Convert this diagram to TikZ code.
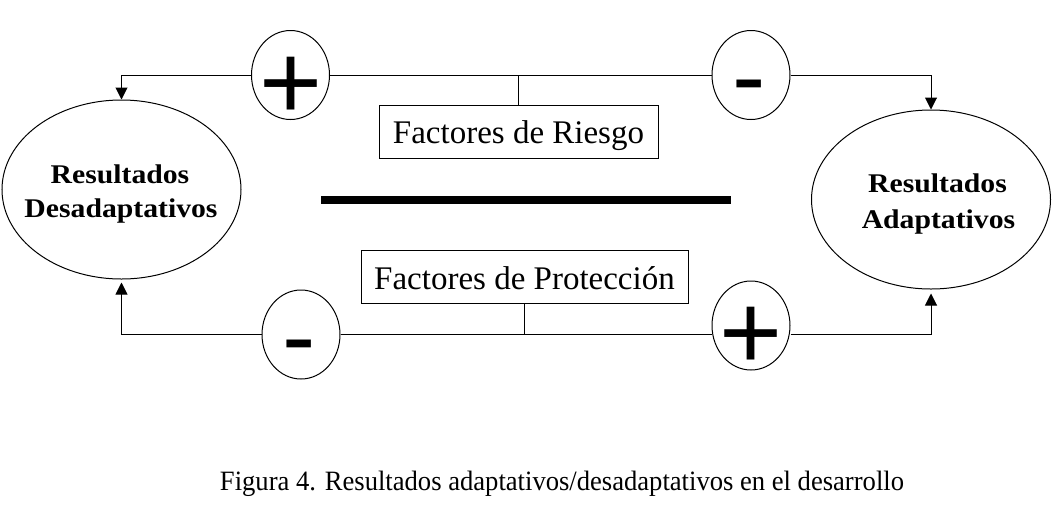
\documentclass[tikz,border=0pt]{standalone}
\usepackage{graphicx}
\usepackage{fontspec}
\setmainfont{Liberation Serif}
\newfontfamily\signfont{Liberation Sans}
\usetikzlibrary{shapes.geometric,arrows.meta}
\begin{document}
\begin{tikzpicture}[x=1pt,y=-1pt,
  conn/.style={line width=1pt},
  arr/.style={line width=1pt,-{Triangle[width=12pt,length=12pt]}},
  bigoval/.style={draw,ellipse,line width=1pt,inner sep=0pt,minimum width=239pt,minimum height=179pt},
  signoval/.style={draw,ellipse,line width=1pt,inner sep=0pt,minimum width=78pt,minimum height=89pt},
  plussign/.style={inner sep=0pt,anchor=base,font=\signfont\fontsize{108}{108}\selectfont},
  minussign/.style={inner sep=0pt,anchor=base,font=\signfont\fontsize{100}{100}\selectfont},
  factbox/.style={draw,line width=1pt,inner sep=0pt,minimum height=53pt,font=\fontsize{33}{33}\selectfont},
  boldlbl/.style={inner sep=0pt,anchor=base,font=\fontsize{27}{27}\selectfont\bfseries},
  captionlbl/.style={inner sep=0pt,anchor=base,font=\fontsize{28}{28}\selectfont}
]
\path[use as bounding box] (0,0) rectangle (1053,504);

% outcome ellipses
\node[bigoval] (desad) at (121.5,189.5) {};
\node[bigoval] (adapt) at (931,199.5) {};
\node[boldlbl] (d1) at (120,183) {\scalebox{1.1}[1]{Resultados}};
\node[boldlbl] (d2) at (121,217) {\scalebox{1.1}[1]{Desadaptativos}};
\node[boldlbl] (a1) at (937.5,192) {\scalebox{1.1}[1]{Resultados}};
\node[boldlbl] (a2) at (938.5,228) {\scalebox{1.1}[1]{Adaptativos}};

% sign circles
\node[signoval] (cTL) at (290.5,75) {};
\node[signoval] (cTR) at (751,75) {};
\node[signoval] (cBL) at (301,334.5) {};
\node[signoval] (cBR) at (751,325.5) {};
\node[plussign] (sTL) at (291,119) {+};
\node[minussign] (sTR) at (749.5,110) {-};
\node[minussign] (sBL) at (299.5,370) {-};
\node[plussign] (sBR) at (751,369) {+};

% factor boxes
\node[factbox,minimum width=279pt,text height=27pt,text depth=4pt] (riesgo) at (518.5,131.5) {Factores de Riesgo};
\node[factbox,minimum width=327pt,text height=29pt,text depth=4pt] (prot) at (524.5,276.5) {Factores de Protección};

% thick bar
\draw[line width=8pt] (321,200) -- (731,200);

% connectors
\draw[arr] (cTL.west) -| (desad.north);
\draw[conn] (cTL.east) -- (cTR.west);
\draw[arr] (cTR.east) -| (adapt.north);
\draw[conn] (riesgo.north) -- (riesgo.north |- cTL.east);
\draw[arr,shorten >=3pt] (cBL.west) -| (desad.south);
\draw[conn] (cBL.east) -- (cBR.west |- cBL.east);
\draw[arr,shorten >=4pt] (cBR.east |- cBL.east) -| (adapt.south);
\draw[conn] (prot.south) -- (prot.south |- cBL.east);

% caption
\node[captionlbl] (cap) at (562,490) {\scalebox{0.95}[1]{Figura 4. Resultados adaptativos/desadaptativos en el desarrollo}};
\end{tikzpicture}
\end{document}
